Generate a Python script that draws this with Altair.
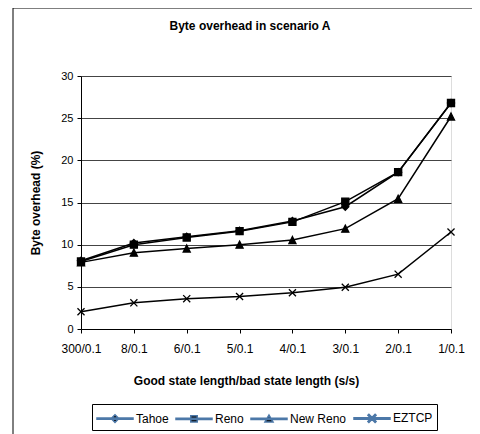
import altair as alt
import pandas as pd

categories = ["300/0.1", "8/0.1", "6/0.1", "5/0.1", "4/0.1", "3/0.1", "2/0.1", "1/0.1"]
series = ["Tahoe", "Reno", "New Reno", "EZTCP"]
tahoe = [8.1, 10.2, 10.95, 11.65, 12.8, 14.5, 18.6, 26.8]
reno = [8.0, 10.0, 10.85, 11.6, 12.7, 15.1, 18.6, 26.8]
new_reno = [7.9, 9.05, 9.55, 10.0, 10.55, 11.9, 15.45, 25.2]
eztcp = [2.05, 3.1, 3.6, 3.85, 4.3, 4.95, 6.5, 11.5]
y_ticks = [0, 5, 10, 15, 20, 25, 30]

rows = []
for name, vals in zip(series, [tahoe, reno, new_reno, eztcp]):
    for c, v in zip(categories, vals):
        rows.append({"cat": c, "series": name, "value": v})
df = pd.DataFrame(rows)

FONT = "Liberation Sans"

marker_paths = [
    "M0,-1L1,0L0,1L-1,0Z",
    "M-1,-1H1V1H-1Z",
    "M0,-1L1,1H-1Z",
    "M-1,-1L1,1M-1,1L1,-1",
]
LINE = "M-1,-0.08H3V0.08H-1Z"
legend_paths = [
    LINE + "M1,-0.42L1.42,0L1,0.42L0.58,0Z",
    LINE + "M0.64,-0.36H1.36V0.36H0.64Z",
    LINE + "M1,-0.42L1.45,0.36H0.55Z",
    LINE + "M1.343,0.457L1.457,0.343L0.657,-0.457L0.543,-0.343Z"
    "M1.457,-0.343L1.343,-0.457L0.543,0.343L0.657,0.457Z",
]

x_enc = alt.X(
    "cat:N",
    sort=categories,
    scale=alt.Scale(type="point", padding=0),
    axis=alt.Axis(
        title="Good state length/bad state length (s/s)",
        labelAngle=0,
        labelFontSize=12,
        labelFont=FONT,
        labelColor="black",
        labelPadding=10,
        tickSize=4,
        tickColor="black",
        domainColor="black",
        grid=False,
        titleFont=FONT,
        titleFontSize=12,
        titleFontWeight="bold",
        titleColor="black",
        titleX=165,
        titleY=51,
        titleBaseline="middle",
    ),
)
y_enc = alt.Y(
    "value:Q",
    scale=alt.Scale(domain=[0, 30], nice=False),
    axis=alt.Axis(
        title="Byte overhead (%)",
        values=y_ticks,
        labelFontSize=11,
        labelFont=FONT,
        labelColor="black",
        labelPadding=4,
        tickSize=4,
        tickColor="black",
        domainColor="black",
        grid=True,
        gridColor="#444444",
        gridWidth=1,
        titleFont=FONT,
        titleFontSize=12,
        titleFontWeight="bold",
        titleColor="black",
        titleX=-46,
        titleY=126.5,
        titleBaseline="middle",
    ),
)

frame = alt.Chart(alt.Data(values=[{"a": 1}])).mark_rect(
    fill="transparent", stroke="black", strokeWidth=1, clip=False
).encode(
    x=alt.value(-68), x2=alt.value(392), y=alt.value(-68), y2=alt.value(380)
)

lines = alt.Chart(df).mark_line(color="black", strokeWidth=1.5).encode(
    x=x_enc, y=y_enc, detail="series:N"
)

points = alt.Chart(df).mark_point(
    fill="black", stroke="black", strokeWidth=1.3, opacity=1, size=50
).encode(
    x=x_enc,
    y=y_enc,
    shape=alt.Shape(
        "series:N",
        scale=alt.Scale(domain=series, range=marker_paths),
        legend=None,
    ),
)

legend_layer = alt.Chart(df).transform_filter("false").mark_point(
    fill="black", opacity=1
).encode(
    x=x_enc,
    y=y_enc,
    shape=alt.Shape(
        "series:N",
        scale=alt.Scale(domain=series, range=legend_paths),
        legend=alt.Legend(
            title=None,
            orient="none",
            legendX=11,
            legendY=328,
            direction="horizontal",
            strokeColor="black",
            fillColor="white",
            padding=4,
            labelFont=FONT,
            labelFontSize=12,
            labelColor="black",
            labelOffset=20,
            columnPadding=4,
            symbolSize=324,
            symbolFillColor="black",
            symbolOpacity=1,
        ),
    ),
)

chart = alt.layer(frame, lines, points, legend_layer).resolve_scale(
    shape="independent"
).properties(
    width=370,
    height=253,
    title=alt.Title(
        "Byte overhead in scenario A",
        font=FONT,
        fontSize=12,
        fontWeight="bold",
        color="black",
        offset=15,
        dx=-16,
        dy=40,
    ),
    padding={"left": 73, "top": 68, "right": 21, "bottom": 105},
    autosize=alt.AutoSizeParams(type="none"),
).configure_view(stroke="black", strokeWidth=1).configure(background="white")

chart.save("out.html", embed_options={"renderer": "svg", "actions": False})
